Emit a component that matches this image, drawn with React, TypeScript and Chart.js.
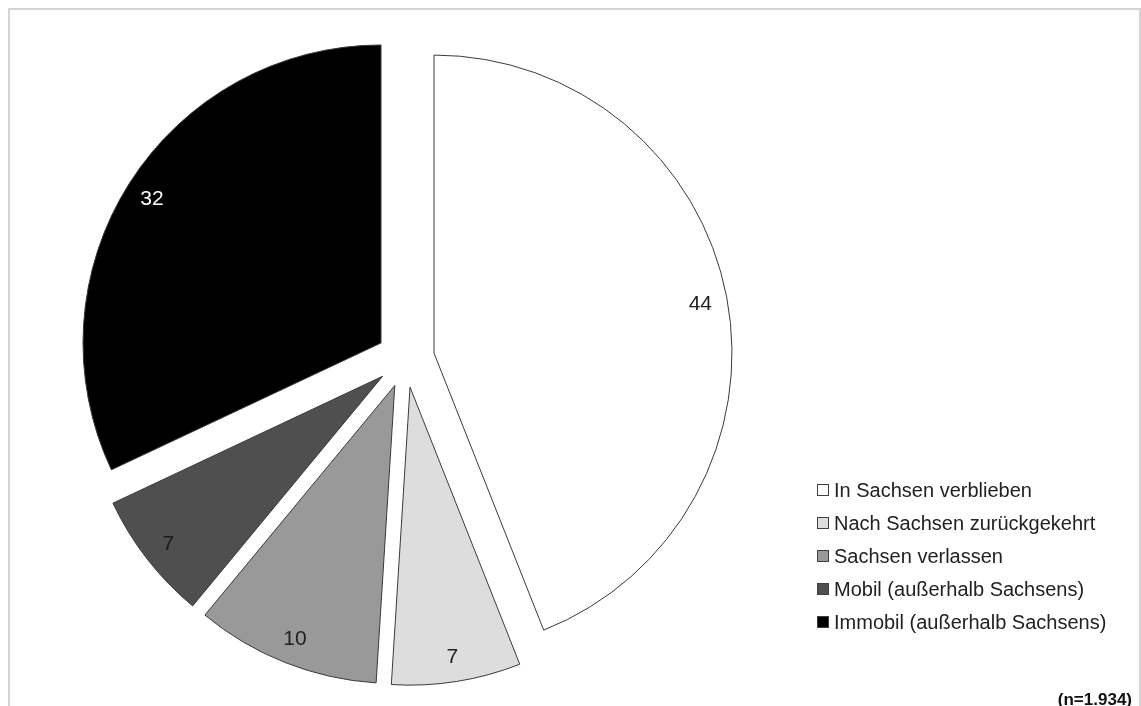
import React, { useEffect, useRef } from "react";
import { Chart, registerables } from "chart.js";

Chart.register(...registerables);

const CATEGORIES = [
  "In Sachsen verblieben",
  "Nach Sachsen zurückgekehrt",
  "Sachsen verlassen",
  "Mobil (außerhalb Sachsens)",
  "Immobil (außerhalb Sachsens)",
];
const VALUES = [44, 7, 10, 7, 32];
const COLORS = ["#ffffff", "#dddddd", "#999999", "#4f4f4f", "#000000"];
const LABEL_COLORS = ["#222222", "#222222", "#222222", "#1a1a1a", "#ffffff"];
const NOTE = "(n=1.934)";

const FONT = "'Liberation Sans', Arial, sans-serif";
const EXPLODE = 29;

const explodePlugin = {
  id: "explodeSlices",
  beforeDatasetDraw(chart: any, args: any) {
    const ctx = chart.ctx;
    args.meta.data.forEach((arc: any) => {
      const { startAngle, endAngle } = arc.getProps(["startAngle", "endAngle"], true);
      const mid = (startAngle + endAngle) / 2;
      ctx.save();
      ctx.translate(Math.cos(mid) * EXPLODE, Math.sin(mid) * EXPLODE);
      arc.draw(ctx, chart.chartArea);
      ctx.restore();
    });
    return false;
  },
  afterDatasetsDraw(chart: any) {
    const ctx = chart.ctx;
    const meta = chart.getDatasetMeta(0);
    const values = chart.data.datasets[0].data;
    ctx.save();
    ctx.font = `21px ${FONT}`;
    ctx.textAlign = "center";
    ctx.textBaseline = "middle";
    meta.data.forEach((arc: any, i: number) => {
      const { x, y, startAngle, endAngle, outerRadius } = arc.getProps(
        ["x", "y", "startAngle", "endAngle", "outerRadius"],
        true
      );
      const mid = (startAngle + endAngle) / 2;
      const d = EXPLODE + outerRadius * 0.91;
      ctx.fillStyle = LABEL_COLORS[i];
      ctx.fillText(String(values[i]), x + Math.cos(mid) * d, y + Math.sin(mid) * d + 2);
    });
    ctx.restore();
  },
  afterDraw(chart: any) {
    const ctx = chart.ctx;
    const labels = chart.data.labels;
    const colors = chart.data.datasets[0].backgroundColor;
    ctx.save();
    ctx.font = `20px ${FONT}`;
    ctx.textBaseline = "middle";
    ctx.textAlign = "left";
    labels.forEach((lab: string, i: number) => {
      const cy = 490 + i * 33;
      ctx.fillStyle = colors[i];
      ctx.fillRect(817.5, cy - 5.5, 11, 11);
      ctx.strokeStyle = "#404040";
      ctx.lineWidth = 1;
      ctx.strokeRect(817.5, cy - 5.5, 11, 11);
      ctx.fillStyle = "#222222";
      ctx.fillText(lab, 834, cy + 1);
    });
    ctx.font = `bold 17px ${FONT}`;
    ctx.textAlign = "right";
    ctx.textBaseline = "alphabetic";
    ctx.fillStyle = "#111111";
    ctx.fillText(NOTE, 1132, 705);
    ctx.restore();
  },
};

export default function App() {
  const ref = useRef<HTMLCanvasElement | null>(null);

  useEffect(() => {
    if (!ref.current) return;
    const chart = new Chart(ref.current, {
      type: "pie",
      data: {
        labels: CATEGORIES,
        datasets: [
          {
            data: VALUES,
            backgroundColor: COLORS,
            borderColor: "#3a3a3a",
            borderWidth: 1,
            radius: 298,
          } as any,
        ],
      },
      options: {
        responsive: false,
        animation: false,
        layout: { padding: { left: 0, right: 330, top: 11, bottom: 0 } },
        plugins: {
          legend: { display: false },
          tooltip: { enabled: false },
        },
      },
      plugins: [explodePlugin],
    });
    return () => chart.destroy();
  }, []);

  return (
    <div
      style={{
        position: "fixed",
        left: 0,
        top: 0,
        width: 1141,
        height: 706,
        overflow: "hidden",
        background: "#ffffff",
      }}
    >
      <div
        style={{
          position: "absolute",
          left: 8,
          top: 8,
          width: 1133,
          height: 730,
          border: "2px solid #d4d4d4",
          boxSizing: "border-box",
        }}
      />
      <canvas
        ref={ref}
        width={1141}
        height={706}
        style={{ position: "absolute", left: 0, top: 0, width: 1141, height: 706 }}
      />
    </div>
  );
}
